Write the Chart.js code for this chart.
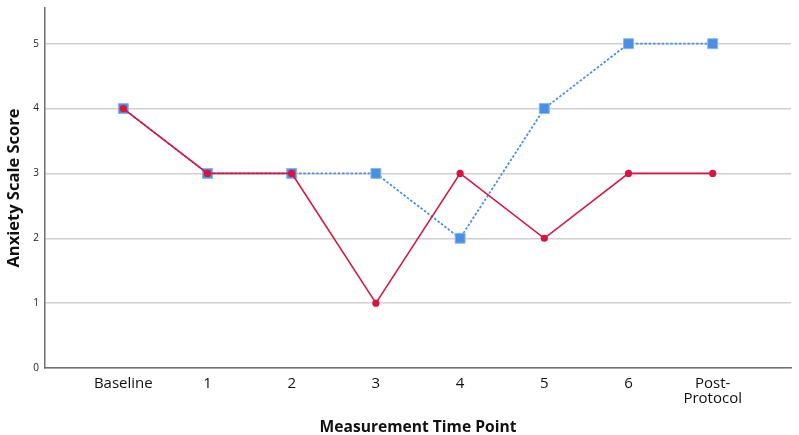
<!DOCTYPE html>
<html>
<head>
<meta charset="utf-8">
<script src="https://cdn.jsdelivr.net/npm/chart.js@4/dist/chart.umd.min.js"></script>
<style>
  html, body { margin: 0; padding: 0; background: #fff; }
  #wrap { width: 799px; height: 435px; }
</style>
</head>
<body>
<div id="wrap"><canvas id="myChart" width="799" height="435"></canvas></div>
<script>
// categories along the x axis
var timePoints = ["Baseline", "1", "2", "3", "4", "5", "6", "Post-\nProtocol"];
// two series
var blueScores = [4, 3, 3, 3, 2, 4, 5, 5];
var redScores = [4, 3, 3, 1, 3, 2, 3, 3];
var yTicks = [0, 1, 2, 3, 4, 5];

function toPoints(arr) {
    var out = [];
    for (var i = 0; i < arr.length; i++) {
        out.push({ x: i, y: arr[i] });
    }
    return out;
}

var fontFam = "'Open Sans', 'DejaVu Sans', sans-serif";

var ctx = document.getElementById("myChart").getContext('2d');
var myChart = new Chart(ctx, {
    type: 'line',
    data: {
        datasets: [{
            data: toPoints(redScores),
            borderColor: "#d8143f",
            backgroundColor: "#d8143f",
            borderWidth: 1.6,
            pointStyle: 'circle',
            pointRadius: 3.6,
            pointBorderWidth: 0,
            order: 1
        }, {
            data: toPoints(blueScores),
            borderColor: "#4a8fe3",
            backgroundColor: "#4a8fe3",
            borderWidth: 1.8,
            borderDash: [2.5, 1.8],
            pointStyle: 'rect',
            pointRadius: 7,
            pointBorderWidth: 1,
            pointBorderColor: "#86b6f0",
            order: 2
        }]
    },
    options: {
        responsive: false,
        animation: false,
        layout: { padding: { top: 5, right: 4, left: 0, bottom: 0 } },
        plugins: { legend: { display: false }, tooltip: { enabled: false } },
        scales: {
            x: {
                type: 'linear',
                min: -0.93,
                max: 7.93,
                afterBuildTicks: function (axis) {
                    axis.ticks = timePoints.map(function (t, i) { return { value: i }; });
                },
                afterFit: function (axis) { axis.height = 67; },
                grid: { display: false, drawTicks: false },
                border: { color: "#6f6f6f", width: 1.5 },
                ticks: {
                    padding: 8,
                    maxRotation: 0,
                    autoSkip: false,
                    color: "#111",
                    font: { family: fontFam, size: 15, lineHeight: 1.0 },
                    callback: function (v) {
                        var l = timePoints[v];
                        return l.indexOf("\n") >= 0 ? l.split("\n") : l;
                    }
                },
                title: {
                    display: true,
                    text: "Measurement Time Point",
                    color: "#111",
                    font: { family: fontFam, size: 15.6, weight: 'bold' },
                    padding: { top: 0, bottom: -2 }
                }
            },
            y: {
                min: 0,
                max: 5.55,
                afterBuildTicks: function (axis) {
                    axis.ticks = yTicks.map(function (v) { return { value: v }; });
                },
                afterFit: function (axis) {
                    axis.width = 45;
                    axis.paddingTop = 0;
                    axis.paddingBottom = 0;
                },
                grid: { color: "#cfcfcf", lineWidth: 1.5, drawTicks: false },
                border: { color: "#6f6f6f", width: 1.5 },
                ticks: {
                    padding: 6,
                    color: "#222",
                    font: { family: fontFam, size: 10 }
                },
                title: {
                    display: true,
                    text: "Anxiety Scale Score",
                    color: "#111",
                    font: { family: fontFam, size: 16.5, weight: 'bold' },
                    padding: { top: 4, bottom: 0 }
                }
            }
        }
    }
});
</script>
</body>
</html>
